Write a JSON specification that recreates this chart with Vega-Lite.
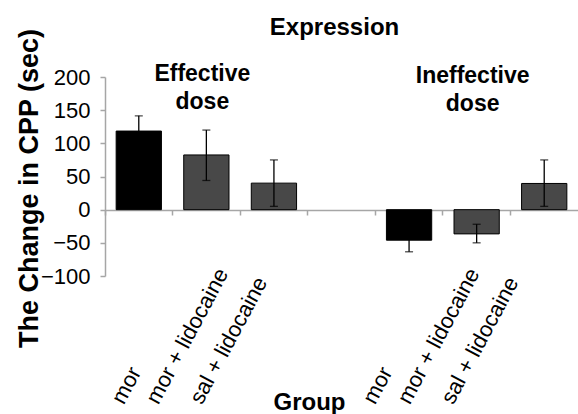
{
  "$schema": "https://vega.github.io/schema/vega-lite/v6.json",
  "autosize": {"type": "none"},
  "padding": {"left": 105, "top": 77, "right": 0, "bottom": 138},
  "width": 473,
  "height": 199,
  "background": "white",
  "title": {"text": "Expression", "font": "Liberation Sans", "fontSize": 24, "fontWeight": "bold", "color": "#000000", "anchor": "middle", "dx": -7, "baseline": "alphabetic", "offset": -31},
  "config": {"view": {"stroke": null}, "font": "Liberation Sans"},
  "resolve": {"axis": {"x": "independent", "y": "independent"}},
  "layer": [
    {
      "data": {"name": "bars", "values": [
        {"key": "E:mor", "treatment": "mor", "value": 118.5, "lower": 95.5, "upper": 141.5},
        {"key": "E:mor + lidocaine", "treatment": "mor + lidocaine", "value": 82.5, "lower": 44, "upper": 120},
        {"key": "E:sal + lidocaine", "treatment": "sal + lidocaine", "value": 40, "lower": 5, "upper": 75},
        {"key": "I:mor", "treatment": "mor", "value": -46, "lower": -63.5, "upper": -28.5},
        {"key": "I:mor + lidocaine", "treatment": "mor + lidocaine", "value": -36.5, "lower": -50, "upper": -22},
        {"key": "I:sal + lidocaine", "treatment": "sal + lidocaine", "value": 39.5, "lower": 5, "upper": 75}
      ]},
      "mark": {"type": "bar", "stroke": "#000000", "strokeWidth": 1},
      "encoding": {
        "x": {
          "field": "key", "type": "nominal", "sort": null,
          "scale": {"domain": ["E:mor", "E:mor + lidocaine", "E:sal + lidocaine", "gap", "I:mor", "I:mor + lidocaine", "I:sal + lidocaine"], "paddingInner": 0.33, "paddingOuter": 0.165},
          "axis": {"orient": "bottom", "offset": -66, "labels": false, "title": null, "domain": true, "domainColor": "#a6a6a6", "domainWidth": 1.5, "ticks": true, "tickSize": 5, "tickColor": "#a6a6a6", "tickWidth": 1.5, "bandPosition": -0.246, "grid": false}
        },
        "y": {
          "field": "value", "type": "quantitative",
          "scale": {"domain": [-100, 200], "nice": false, "zero": false},
          "axis": {
            "values": [-100, -50, 0, 50, 100, 150, 200], "grid": false,
            "domainColor": "#a6a6a6", "domainWidth": 1.5, "tickColor": "#a6a6a6", "tickWidth": 1.5, "tickSize": 5,
            "labelFont": "Liberation Sans", "labelFontSize": 22, "labelColor": "#000000", "labelPadding": 10,
            "title": "The Change in CPP (sec)", "titleFont": "Liberation Sans", "titleFontSize": 27, "titleFontWeight": "bold", "titleColor": "#000000",
            "titleAngle": -90, "titleX": -68, "titleY": 111, "titleAlign": "center", "titleBaseline": "alphabetic"
          }
        },
        "color": {"field": "treatment", "type": "nominal", "scale": {"domain": ["mor", "mor + lidocaine", "sal + lidocaine"], "range": ["#000000", "#484848", "#484848"]}, "legend": null}
      }
    },
    {
      "data": {"name": "bars"},
      "mark": {"type": "errorbar", "ticks": {"size": 8, "thickness": 1.3, "color": "#000000"}, "rule": {"strokeWidth": 1.3, "color": "#000000"}},
      "encoding": {
        "x": {"field": "key", "type": "nominal", "sort": null, "axis": null},
        "y": {"field": "lower", "type": "quantitative", "axis": null},
        "y2": {"field": "upper"}
      }
    },
    {
      "data": {"values": [
        {"key": "E:mor + lidocaine", "ypos": 194, "note": "Effective\ndose"},
        {"key": "I:mor + lidocaine", "ypos": 191, "note": "Ineffective\ndose"}
      ]},
      "mark": {"type": "text", "font": "Liberation Sans", "fontSize": 23, "fontWeight": "bold", "color": "#000000", "align": "center", "baseline": "alphabetic", "lineBreak": "\n", "lineHeight": 28, "dx": -4},
      "encoding": {
        "x": {
          "field": "key", "type": "nominal", "sort": null,
          "axis": {
            "orient": "bottom", "domain": false, "ticks": false, "tickSize": 0, "grid": false,
            "labelExpr": "datum.value == 'gap' ? '' : slice(datum.value, 2)",
            "labelAngle": -62, "labelAlign": "left", "labelBaseline": "alphabetic", "labelPadding": 129,
            "labelOffset": {"condition": [
              {"test": "datum.value == 'E:mor'", "value": -15},
              {"test": "datum.value == 'E:mor + lidocaine'", "value": -48},
              {"test": "datum.value == 'E:sal + lidocaine'", "value": -72},
              {"test": "datum.value == 'I:mor'", "value": -34},
              {"test": "datum.value == 'I:mor + lidocaine'", "value": -67}
            ], "value": -91},
            "labelFont": "Liberation Sans", "labelFontSize": 22, "labelColor": "#000000",
            "labelOverlap": false, "labelBound": false, "labelFlush": false, "labelLimit": 0,
            "title": "Group", "titleFont": "Liberation Sans", "titleFontSize": 24, "titleFontWeight": "bold", "titleColor": "#000000",
            "titleX": 204, "titleY": 133, "titleAlign": "center", "titleBaseline": "alphabetic", "titleAnchor": null
          }
        },
        "y": {"field": "ypos", "type": "quantitative", "axis": null},
        "text": {"field": "note", "type": "nominal"}
      }
    }
  ]
}
